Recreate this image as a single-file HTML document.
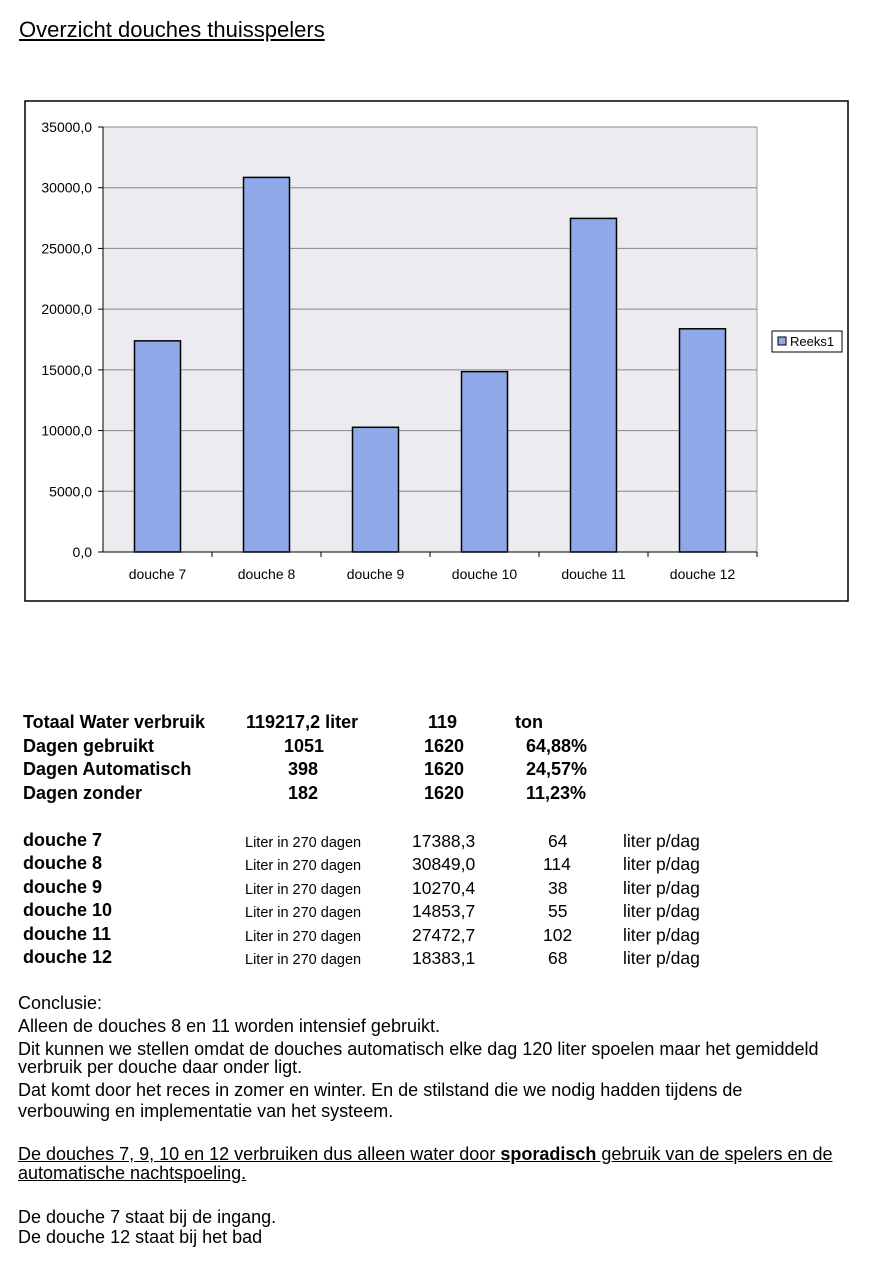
<!DOCTYPE html>
<html><head><meta charset="utf-8"><style>
body{margin:0;width:879px;height:1280px;background:#fff;font-family:"Liberation Sans",Arial,sans-serif;position:relative;overflow:hidden;color:#000}
.a{position:absolute;white-space:nowrap}
.b{font-weight:bold;font-size:18px}
.n{font-size:17.5px}
.s{font-size:14.5px}
.p{font-size:18px;left:18px}
</style></head><body>
<div class="a" style="left:19px;top:17px;font-size:22px;text-decoration:underline">Overzicht douches thuisspelers</div>
<svg class="a" style="left:0;top:0" width="879" height="620">
<rect x="25" y="101" width="823" height="500" fill="#fff" stroke="#000" stroke-width="1.5"/>
<rect x="103" y="127" width="654" height="425" fill="#ececf0" stroke="#999"/>
<g id="g"></g>
<rect x="772" y="331" width="70" height="21" fill="#fff" stroke="#000"/>
<rect x="778" y="337" width="8" height="8" fill="#8ea8e8" stroke="#000"/>
<text x="790" y="346" font-size="13" font-family="Liberation Sans">Reeks1</text>
</svg>
<script>
const categories=["douche 7","douche 8","douche 9","douche 10","douche 11","douche 12"];
const values=[17388.3,30849.0,10270.4,14853.7,27472.7,18383.1];
const ticks=[0,5000,10000,15000,20000,25000,30000,35000];
const tickLabels=["0,0","5000,0","10000,0","15000,0","20000,0","25000,0","30000,0","35000,0"];
const g=document.getElementById('g');const NS="http://www.w3.org/2000/svg";
const x0=103,w=654,y0=552,h=425,max=35000;
const y=v=>y0-v/max*h;const bw=w/categories.length;
function mk(t,a){const e=document.createElementNS(NS,t);for(const k in a)e.setAttribute(k,a[k]);g.appendChild(e);return e;}
ticks.forEach((t,i)=>{
 if(t>0){const l=mk('line',{x1:x0,x2:x0+w,y1:y(t),y2:y(t),stroke:'#888'});
 
 }
 mk('line',{x1:x0-5,x2:x0,y1:y(t),y2:y(t),stroke:'#000'});
 const tx=mk('text',{x:x0-11,y:y(t)+5,'text-anchor':'end','font-size':14,'font-family':'Liberation Sans'});
 tx.textContent=tickLabels[i];
 
 
});
mk('line',{x1:x0,x2:x0,y1:127,y2:y0,stroke:'#000'});
mk('line',{x1:x0,x2:x0+w,y1:y0,y2:y0,stroke:'#000'});
categories.forEach((c,i)=>{
 const cx=x0+bw*(i+0.5);
 const r=mk('rect',{x:cx-23,y:y(values[i]),width:46,height:y0-y(values[i]),fill:'#8ea8e8',stroke:'#000','stroke-width':1.5});
 
 
 mk('line',{x1:x0+bw*(i+1),x2:x0+bw*(i+1),y1:y0,y2:y0+5,stroke:'#000'});
 const t=mk('text',{x:cx,y:579,'text-anchor':'middle','font-size':14,'font-family':'Liberation Sans'});
 t.textContent=c;
 
 
});
</script>
<div>
<div class="a b" style="left:23px;top:712px">Totaal Water verbruik</div><div class="a b" style="left:246px;top:712px">119217,2 liter</div><div class="a b" style="left:428px;top:712px">119</div><div class="a b" style="left:515px;top:712px">ton</div>
<div class="a b" style="left:23px;top:736px">Dagen gebruikt</div><div class="a b" style="left:284px;top:736px">1051</div><div class="a b" style="left:424px;top:736px">1620</div><div class="a b" style="left:526px;top:736px">64,88%</div>
<div class="a b" style="left:23px;top:759px">Dagen Automatisch</div><div class="a b" style="left:288px;top:759px">398</div><div class="a b" style="left:424px;top:759px">1620</div><div class="a b" style="left:526px;top:759px">24,57%</div>
<div class="a b" style="left:23px;top:783px">Dagen zonder</div><div class="a b" style="left:288px;top:783px">182</div><div class="a b" style="left:424px;top:783px">1620</div><div class="a b" style="left:526px;top:783px">11,23%</div>
</div>
<div>
<div class="a b" style="left:23px;top:830px">douche 7</div><div class="a s" style="left:245px;top:835px">Liter in 270 dagen</div><div class="a n" style="left:412px;top:831px">17388,3</div><div class="a n" style="left:548px;top:831px">64</div><div class="a n" style="left:623px;top:831px">liter p/dag</div>
<div class="a b" style="left:23px;top:853px">douche 8</div><div class="a s" style="left:245px;top:858px">Liter in 270 dagen</div><div class="a n" style="left:412px;top:854px">30849,0</div><div class="a n" style="left:543px;top:854px">114</div><div class="a n" style="left:623px;top:854px">liter p/dag</div>
<div class="a b" style="left:23px;top:877px">douche 9</div><div class="a s" style="left:245px;top:882px">Liter in 270 dagen</div><div class="a n" style="left:412px;top:878px">10270,4</div><div class="a n" style="left:548px;top:878px">38</div><div class="a n" style="left:623px;top:878px">liter p/dag</div>
<div class="a b" style="left:23px;top:900px">douche 10</div><div class="a s" style="left:245px;top:905px">Liter in 270 dagen</div><div class="a n" style="left:412px;top:901px">14853,7</div><div class="a n" style="left:548px;top:901px">55</div><div class="a n" style="left:623px;top:901px">liter p/dag</div>
<div class="a b" style="left:23px;top:924px">douche 11</div><div class="a s" style="left:245px;top:929px">Liter in 270 dagen</div><div class="a n" style="left:412px;top:925px">27472,7</div><div class="a n" style="left:543px;top:925px">102</div><div class="a n" style="left:623px;top:925px">liter p/dag</div>
<div class="a b" style="left:23px;top:947px">douche 12</div><div class="a s" style="left:245px;top:952px">Liter in 270 dagen</div><div class="a n" style="left:412px;top:948px">18383,1</div><div class="a n" style="left:548px;top:948px">68</div><div class="a n" style="left:623px;top:948px">liter p/dag</div>
</div>
<div>
<div class="a p" style="top:993px">Conclusie:</div>
<div class="a p" style="top:1016px">Alleen de douches 8 en 11 worden intensief gebruikt.</div>
<div class="a p" style="top:1039px">Dit kunnen we stellen omdat de douches automatisch elke dag 120 liter spoelen maar het gemiddeld</div>
<div class="a p" style="top:1057px">verbruik per douche daar onder ligt.</div>
<div class="a p" style="top:1080px">Dat komt door het reces in zomer en winter. En de stilstand die we nodig hadden tijdens de</div>
<div class="a p" style="top:1101px">verbouwing en implementatie van het systeem.</div>
<div class="a p" style="top:1144px;text-decoration:underline">De douches 7, 9, 10 en 12 verbruiken dus alleen water door <b>sporadisch</b> gebruik van de spelers en de</div>
<div class="a p" style="top:1163px;text-decoration:underline">automatische nachtspoeling.</div>
<div class="a p" style="top:1207px">De douche 7 staat bij de ingang.</div>
<div class="a p" style="top:1227px">De douche 12 staat bij het bad</div>
</div>
</body></html>
